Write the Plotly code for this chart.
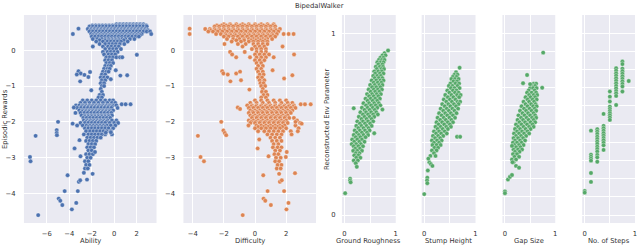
import plotly.graph_objects as go

# ---------------- data ----------------
# Panel 1: Ability vs Episodic Rewards  -> rows of (reward, [ability values]) + outliers
ability_rows = [
    (0.72, [0.2, 0.5, 0.8, 1.1, 1.4, 1.7, 2.0, 2.3, 2.6]),
    (0.69, [-1.95, -1.65, -1.35, -1.05, -0.75, -0.45, -0.15, 0.15, 0.45, 0.75, 1.05, 1.35, 1.65, 1.95, 2.25, 2.55, 2.85]),
    (0.66, [-2.2, -1.9, -1.6, -1.3, -1.0, -0.7, -0.4, -0.1, 0.2, 0.5, 0.8, 1.1, 1.4, 1.7, 2.0, 2.3, 2.6, 2.9]),
    (0.59, [-2.35, -2.05, -1.75, -1.45, -1.15, -0.85, -0.55, -0.25, 0.05, 0.35, 0.65, 0.95, 1.25, 1.55, 1.85, 2.15, 2.45, 2.75]),
    (0.555, [-2.1, -1.8, -1.5, -1.2, -0.9, -0.6, -0.3, 0.0, 0.3, 0.6, 0.9, 1.2, 1.5, 1.8, 2.1, 2.4, 2.7, 3.0]),
    (0.52, [-2.2, -1.9, -1.6, -1.3, -1.0, -0.7, -0.4, -0.1, 0.2, 0.5, 0.8, 1.1, 1.4, 1.7, 2.0, 2.3, 2.6, 2.9, 3.2]),
    (0.45, [-2.05, -1.75, -1.45, -1.15, -0.85, -0.55, -0.25, 0.05, 0.35, 0.65, 0.95, 1.25, 1.55, 1.85, 2.15, 2.45, 3.3]),
    (0.415, [-1.9, -1.6, -1.3, -1.0, -0.7, -0.4, -0.1, 0.2, 0.5, 0.8, 1.1, 1.4, 1.7, 2.0, 2.3]),
    (0.38, [-2.0, -1.7, -1.4, -1.1, -0.8, -0.5, -0.2, 0.1, 0.4, 0.7, 1.0, 1.3, 1.6, 1.9, 2.2]),
    (0.31, [-1.9, -1.5, -1.1, -0.8, -0.5, -0.2, 0.1, 0.4, 0.7, 1.0, 1.4, 1.8]),
    (0.275, [-1.3, -0.8, -0.45, -0.15, 0.15, 0.45, 0.85]),
    (0.24, [-1.6, -1.0, -0.6, -0.3, 0.0, 0.3, 0.6, 1.2]),
    (0.17, [-1.3, -0.8, -0.45, -0.15, 0.15, 0.5, 0.9]),
    (0.10, [-1.9, -1.0, -0.55, -0.25, 0.1, 0.4]),
    (0.03, [-0.8, -0.4, -0.1, 0.2, 0.6]),
    (-0.05, [-1.0, -0.6, -0.3, 0.0, 0.3]),
    (-0.12, [-0.9, -0.5, -0.2, 0.1]),
    (-0.20, [-0.7, -0.4, -0.1, 0.2, 0.52, 0.72]),
    (-0.28, [-0.8, -0.5, -0.2]),
    (-0.36, [-0.7, -0.4, -0.1]),
    (-0.44, [-0.8, -0.5, -0.3]),
    (-0.52, [-0.9, -0.6, -0.4]),
    (-0.60, [-1.0, -0.7, -0.5]),
    (-0.68, [-1.1, -0.8]),
    (-0.76, [-1.2, -0.9, -0.6]),
    (-0.84, [-1.1, -0.8]),
    (-0.92, [-1.2, -0.9]),
    (-1.00, [-1.1, -0.9]),
    (-1.08, [-1.2]),
    (-1.16, [-1.1]),
    (-1.25, [-1.3, -1.0]),
    (-1.32, [-1.4, -1.1]),
    (-1.40, [-2.8, -2.4, -2.0, -1.6, -1.2, -0.8, -0.4, -0.1]),
    (-1.47, [-3.0, -2.6, -2.2, -1.8, -1.4, -1.0, -0.6, -0.2, 0.1]),
    (-1.54, [-3.4, -3.1, -2.8, -2.5, -2.2, -1.9, -1.6, -1.3, -1.0, -0.7, -0.4, -0.1, 0.2]),
    (-1.575, [-2.9, -2.6, -2.3, -2.0, -1.7, -1.4, -1.1, -0.8, -0.5, -0.2]),
    (-1.61, [-3.3, -2.95, -2.65, -2.35, -2.05, -1.75, -1.45, -1.15, -0.85, -0.55, -0.25, 0.3]),
    (-1.68, [-3.1, -2.8, -2.5, -2.2, -1.9, -1.6, -1.3, -1.0, -0.7, -0.4, -0.1]),
    (-1.715, [-2.85, -2.55, -2.25, -1.95, -1.65, -1.35, -1.05, -0.75, -0.45]),
    (-1.75, [-3.0, -2.65, -2.35, -2.05, -1.75, -1.45, -1.15, -0.85, -0.55, -0.25]),
    (-1.82, [-2.9, -2.6, -2.3, -2.0, -1.7, -1.4, -1.1, -0.8, -0.5, -0.2]),
    (-1.855, [-2.6, -2.3, -2.0, -1.7, -1.4, -1.1, -0.8, -0.5]),
    (-1.89, [-2.75, -2.45, -2.15, -1.85, -1.55, -1.25, -0.95, -0.65, -0.35]),
    (-1.96, [-2.7, -2.4, -2.1, -1.8, -1.5, -1.2, -0.9, -0.6, -0.2, 0.2]),
    (-1.995, [-2.5, -2.2, -1.9, -1.6, -1.3, -1.0, -0.7]),
    (-2.03, [-3.0, -2.6, -2.3, -2.0, -1.7, -1.4, -1.1, -0.8, -0.4, 0.0, 0.35]),
    (-2.10, [-2.8, -2.45, -2.15, -1.85, -1.55, -1.25, -0.95, -0.65, -0.3, 0.1]),
    (-2.14, [-2.3, -2.0, -1.7, -1.4, -1.1, -0.8]),
    (-2.18, [-2.6, -2.3, -2.0, -1.7, -1.4, -1.1, -0.8, -0.5, -0.1]),
    (-2.26, [-2.5, -2.15, -1.85, -1.55, -1.25, -0.95, -0.65, -0.3]),
    (-2.35, [-2.7, -2.3, -2.0, -1.7, -1.4, -1.1, -0.8, -0.2]),
    (-2.44, [-2.4, -2.1, -1.8, -1.5, -1.2]),
    (-2.53, [-2.5, -2.2, -1.9, -1.6]),
    (-2.62, [-2.3, -2.0, -1.7]),
    (-2.71, [-2.4, -2.1, -1.8]),
    (-2.80, [-2.3, -2.0]),
    (-2.90, [-2.5, -2.2, -1.9]),
    (-3.00, [-2.4, -2.1]),
    (-3.10, [-2.6, -2.3]),
    (-3.20, [-2.5, -2.2]),
    (-3.30, [-2.6, -2.35]),
    (-3.42, [-2.7]),
]
ability_outliers = [
    (-3.68, 0.45), (-3.18, 0.6), (2.02, -0.13), (0.14, -0.56), (-0.30, -0.81), (0.55, -0.71),
    (1.16, -0.70), (-3.18, -0.59), (-2.98, -0.65), (-3.33, -0.68), (-2.65, -0.69), (-3.03, -0.87),
    (-2.3, -0.75), (-2.15, -0.61), (-2.04, -1.12), (0.67, -1.51), (1.02, -1.51), (1.46, -1.51),
    (-5.0, -2.0), (-7.0, -2.39), (-5.12, -2.23), (-5.12, -2.31), (-5.1, -2.37), (-7.5, -2.98),
    (-7.45, -3.1), (-6.77, -4.6), (-4.15, -3.49), (-4.41, -3.93), (-4.94, -4.14), (-4.8, -4.2),
    (-4.62, -4.32), (-3.77, -4.44), (-3.38, -4.26), (-3.24, -3.93), (-3.53, -2.74), (-3.09, -2.51),
    (-3.0, -2.96), (-3.15, -3.67), (-3.03, -3.63), (-2.42, -3.61), (-1.92, -3.45), (-1.71, -2.84),
    (-0.3, -2.29), (-0.75, -2.3), (-3.6, -1.6), (-3.45, -1.75), (-3.7, -2.05), (-3.3, -2.1),
]

# Panel 2: Difficulty vs Episodic Rewards
difficulty_rows = [
    (0.72, [-2.0, -1.6, -1.2, -0.8, -0.4, 0.0, 0.4, 0.8, 1.2]),
    (0.69, [-2.45, -2.15, -1.85, -1.55, -1.25, -0.95, -0.65, -0.35, -0.05, 0.25, 0.55, 0.85, 1.15]),
    (0.66, [-2.6, -2.3, -2.0, -1.7, -1.4, -1.1, -0.8, -0.5, -0.2, 0.1, 0.4, 0.7, 1.0, 1.3]),
    (0.59, [-3.2, -2.9, -2.6, -2.3, -2.0, -1.7, -1.4, -1.1, -0.8, -0.5, -0.2, 0.1, 0.4, 0.7, 1.0, 1.3, 1.6]),
    (0.555, [-2.85, -2.55, -2.25, -1.95, -1.65, -1.35, -1.05, -0.75, -0.45, -0.15, 0.15, 0.45, 0.75, 1.05, 1.35]),
    (0.52, [-3.0, -2.7, -2.4, -2.1, -1.8, -1.5, -1.2, -0.9, -0.6, -0.3, 0.0, 0.3, 0.6, 0.9, 1.2, 1.5]),
    (0.45, [-2.5, -2.2, -1.9, -1.6, -1.3, -1.0, -0.7, -0.4, -0.1, 0.2, 0.5, 0.8, 1.1, 1.4, 1.84, 2.16, 2.48]),
    (0.415, [-1.85, -1.55, -1.25, -0.95, -0.65, -0.35, -0.05, 0.25, 0.55, 0.85, 1.15]),
    (0.38, [-2.0, -1.7, -1.4, -1.1, -0.8, -0.5, -0.2, 0.1, 0.4, 0.7, 1.0, 1.3]),
    (0.31, [-1.8, -1.4, -1.0, -0.7, -0.4, -0.1, 0.2, 0.5, 0.8, 1.1]),
    (0.275, [-1.2, -0.7, -0.25, 0.05, 0.35, 0.65]),
    (0.24, [-1.5, -0.9, -0.4, -0.1, 0.2, 0.5, 0.8]),
    (0.17, [-1.96, -1.1, -0.6, -0.1, 0.2, 0.5, 0.8]),
    (0.10, [-0.8, 0.0, 0.3, 0.6, 1.77]),
    (0.03, [-0.2, 0.1, 0.4, 0.7]),
    (-0.05, [-1.6, -0.66, 0.1, 0.4, 0.7]),
    (-0.12, [-1.47, 0.0, 0.3, 0.6, 0.9, 2.51]),
    (-0.20, [-1.21, -0.32, 0.1, 0.4, 0.7, 1.2]),
    (-0.28, [0.0, 0.3, 0.6]),
    (-0.36, [0.1, 0.4]),
    (-0.44, [0.2, 0.5]),
    (-0.52, [0.1, 0.4]),
    (-0.60, [0.2, 0.5]),
    (-0.68, [0.3, 0.55]),
    (-0.76, [0.2, 0.45]),
    (-0.84, [0.3, 0.6]),
    (-0.92, [0.35, 0.55]),
    (-1.00, [0.4, 0.65]),
    (-1.08, [0.5]),
    (-1.16, [0.45, 0.7]),
    (-1.25, [0.55, 0.8]),
    (-1.32, [0.4, 0.7]),
    (-1.40, [0.0, 0.4, 0.8, 1.2, 1.6, 2.0]),
    (-1.47, [-0.3, 0.1, 0.5, 0.9, 1.3, 1.7, 2.1, 2.4]),
    (-1.54, [-0.5, -0.2, 0.1, 0.4, 0.7, 1.0, 1.3, 1.6, 1.9, 2.2, 2.5]),
    (-1.575, [-0.25, 0.05, 0.35, 0.65, 0.95, 1.25, 1.55, 1.85, 2.15, 2.45]),
    (-1.61, [-0.4, -0.1, 0.2, 0.5, 0.8, 1.1, 1.4, 1.7, 2.0, 2.3, 2.6]),
    (-1.68, [-0.3, 0.0, 0.3, 0.6, 0.9, 1.2, 1.5, 1.8, 2.1, 2.4]),
    (-1.715, [-0.15, 0.15, 0.45, 0.75, 1.05, 1.35, 1.65, 1.95, 2.25]),
    (-1.75, [-0.4, -0.1, 0.2, 0.5, 0.8, 1.1, 1.4, 1.7, 2.0, 2.3]),
    (-1.82, [-0.3, 0.0, 0.3, 0.6, 0.9, 1.2, 1.5, 1.8, 2.1]),
    (-1.855, [-0.15, 0.15, 0.45, 0.75, 1.05, 1.35, 1.65, 1.95]),
    (-1.89, [-0.2, 0.1, 0.4, 0.7, 1.0, 1.3, 1.6, 1.9, 2.2, 2.5]),
    (-1.96, [-0.4, -0.1, 0.2, 0.5, 0.8, 1.1, 1.4, 1.7, 2.0, 2.7]),
    (-1.995, [-0.25, 0.05, 0.35, 0.65, 0.95, 1.25, 1.55, 1.85]),
    (-2.03, [-0.3, 0.0, 0.3, 0.6, 0.9, 1.2, 1.5, 1.8, 2.1, 2.9]),
    (-2.10, [-0.42, 0.1, 0.4, 0.7, 1.0, 1.3, 1.6, 1.9, 2.6]),
    (-2.14, [0.2, 0.55, 0.85, 1.15, 1.45, 1.75]),
    (-2.18, [0.0, 0.4, 0.7, 1.0, 1.3, 1.6, 2.0, 2.8]),
    (-2.26, [0.2, 0.6, 0.9, 1.2, 1.5, 1.8, 2.3, 2.75]),
    (-2.35, [0.8, 1.1, 1.4, 1.7, 2.35]),
    (-2.44, [1.0, 1.3, 1.6]),
    (-2.53, [1.1, 1.4, 1.7]),
    (-2.62, [1.2, 1.5]),
    (-2.71, [1.15, 1.45, 1.7]),
    (-2.80, [1.3, 1.6]),
    (-2.90, [1.25, 1.5]),
    (-3.00, [1.35, 1.65]),
    (-3.10, [1.3, 1.55]),
    (-3.20, [1.45, 1.7]),
    (-3.30, [1.4, 1.65]),
    (-3.45, [1.55]),
]
difficulty_outliers = [
    (-4.2, 0.6), (-4.2, 0.45), (1.13, -0.56), (1.87, -0.79), (2.4, -0.7),
    (-2.11, -0.59), (-2.03, -0.65), (-1.75, -0.68), (-1.58, -0.87), (-1.21, -0.65), (-0.96, -0.6),
    (-0.9, -0.84), (-0.36, -1.1), (2.94, -1.51), (3.21, -1.51), (3.58, -1.51), (-1.11, -1.6),
    (-0.96, -1.64), (-2.17, -2.0), (-3.67, -2.39), (-2.03, -2.24), (-1.94, -2.31), (-1.85, -2.37),
    (-3.5, -2.98), (-3.28, -3.1), (-0.79, -4.6), (0.53, -3.49), (0.81, -3.93), (0.55, -4.14),
    (0.66, -4.2), (1.02, -4.32), (2.02, -4.44), (2.15, -4.26), (1.87, -3.93), (0.17, -2.74),
    (0.27, -2.49), (0.87, -2.96), (1.6, -3.67), (1.72, -3.63), (2.04, -2.84), (2.57, -3.43),
    (1.98, -2.98), (2.6, -2.0), (3.0, -2.05),
]

# Panels 3-5: true env parameter (x) vs reconstructed env parameter (y)
roughness_rows = [
    (0.890, [0.78]), (0.878, [0.74, 0.80]), (0.865, [0.70, 0.76]), (0.853, [0.67, 0.73, 0.78]),
    (0.840, [0.64, 0.71, 0.76]), (0.828, [0.66, 0.74]), (0.815, [0.61, 0.69, 0.75]),
    (0.803, [0.63, 0.72, 0.77]), (0.790, [0.58, 0.66, 0.73]), (0.778, [0.60, 0.69, 0.76]),
    (0.765, [0.56, 0.64, 0.71]), (0.753, [0.59, 0.67, 0.74]), (0.740, [0.53, 0.62, 0.70, 0.76]),
    (0.728, [0.57, 0.65, 0.72]), (0.715, [0.50, 0.59, 0.68, 0.74]), (0.703, [0.54, 0.62, 0.70]),
    (0.690, [0.47, 0.57, 0.65, 0.73]), (0.678, [0.51, 0.60, 0.68]), (0.665, [0.44, 0.54, 0.63, 0.71]),
    (0.653, [0.48, 0.57, 0.66]), (0.640, [0.41, 0.51, 0.60, 0.69]), (0.628, [0.45, 0.55, 0.64]),
    (0.615, [0.37, 0.48, 0.58, 0.67]), (0.603, [0.42, 0.52, 0.61, 0.70]),
    (0.590, [0.34, 0.45, 0.55, 0.64]), (0.578, [0.39, 0.49, 0.59]),
    (0.565, [0.31, 0.42, 0.52, 0.62]), (0.553, [0.36, 0.46, 0.56, 0.65]),
    (0.540, [0.28, 0.39, 0.49, 0.58]), (0.528, [0.33, 0.43, 0.53]),
    (0.515, [0.25, 0.36, 0.46, 0.56]), (0.503, [0.30, 0.40, 0.50]),
    (0.490, [0.23, 0.33, 0.43, 0.53]), (0.478, [0.27, 0.37, 0.47]),
    (0.465, [0.20, 0.30, 0.40, 0.49]), (0.453, [0.24, 0.34, 0.44]),
    (0.440, [0.18, 0.28, 0.37, 0.46]), (0.428, [0.22, 0.31, 0.41]),
    (0.415, [0.15, 0.25, 0.34]), (0.403, [0.19, 0.29, 0.39]), (0.390, [0.14, 0.23, 0.32]),
    (0.378, [0.18, 0.27, 0.36]), (0.365, [0.21, 0.30]), (0.353, [0.17, 0.25, 0.34]),
    (0.340, [0.22, 0.29]), (0.328, [0.19, 0.27]), (0.315, [0.23, 0.31]), (0.300, [0.18, 0.26]),
    (0.285, [0.22]), (0.265, [0.24]),
]
roughness_outliers = [(0.013, 0.12), (0.11, 0.20), (0.11, 0.19), (0.12, 0.18), (0.18, 0.587),
                      (0.58, 0.45), (0.74, 0.58), (0.85, 0.905)]

stump_rows = [
    (0.785, [0.62]), (0.772, [0.59, 0.65]), (0.760, [0.56, 0.63]), (0.748, [0.53, 0.60, 0.67]),
    (0.735, [0.57, 0.64]), (0.723, [0.51, 0.61, 0.68]), (0.710, [0.48, 0.55, 0.65]),
    (0.698, [0.52, 0.59, 0.69]), (0.685, [0.45, 0.56, 0.63]), (0.673, [0.49, 0.60, 0.67]),
    (0.660, [0.41, 0.53, 0.64, 0.71]), (0.648, [0.46, 0.57, 0.68]), (0.635, [0.38, 0.50, 0.61]),
    (0.623, [0.43, 0.54, 0.65, 0.70]), (0.610, [0.35, 0.47, 0.58, 0.67]), (0.598, [0.40, 0.51, 0.62]),
    (0.585, [0.32, 0.44, 0.55, 0.66]), (0.573, [0.37, 0.48, 0.59]), (0.560, [0.29, 0.41, 0.52, 0.63]),
    (0.548, [0.34, 0.45, 0.56]), (0.535, [0.26, 0.38, 0.49, 0.60]), (0.523, [0.31, 0.42, 0.53]),
    (0.510, [0.24, 0.35, 0.46, 0.56]), (0.498, [0.28, 0.39, 0.50]), (0.485, [0.22, 0.32, 0.43, 0.52]),
    (0.473, [0.26, 0.36, 0.46]), (0.460, [0.19, 0.29, 0.40]), (0.448, [0.23, 0.33, 0.44]),
    (0.435, [0.17, 0.27, 0.37]), (0.423, [0.21, 0.31]), (0.410, [0.15, 0.25, 0.34]),
    (0.398, [0.19, 0.29]), (0.385, [0.16, 0.24, 0.32]), (0.370, [0.20, 0.27]),
    (0.355, [0.15, 0.24]), (0.340, [0.19]), (0.325, [0.12, 0.22]),
]
stump_outliers = [(0.0, 0.115), (0.06, 0.205), (0.055, 0.19), (0.06, 0.175), (0.07, 0.245),
                  (0.1, 0.29), (0.13, 0.28), (0.16, 0.27), (0.64, 0.43), (0.70, 0.43), (0.69, 0.81),
                  (0.08, 0.31)]

gap_rows = [
    (0.722, [0.57, 0.62]), (0.710, [0.53, 0.60]), (0.698, [0.50, 0.56, 0.63]), (0.685, [0.47, 0.59]),
    (0.673, [0.44, 0.53, 0.62]), (0.660, [0.48, 0.57, 0.64]), (0.648, [0.41, 0.51, 0.60]),
    (0.635, [0.45, 0.55, 0.63]), (0.623, [0.37, 0.48, 0.58]), (0.610, [0.41, 0.52, 0.61]),
    (0.598, [0.33, 0.45, 0.56, 0.63]), (0.585, [0.38, 0.49, 0.59]), (0.573, [0.30, 0.42, 0.53, 0.62]),
    (0.560, [0.35, 0.46, 0.57]), (0.548, [0.27, 0.39, 0.50, 0.60]), (0.535, [0.32, 0.43, 0.54, 0.62]),
    (0.523, [0.25, 0.36, 0.47, 0.57]), (0.510, [0.29, 0.40, 0.51, 0.60]),
    (0.498, [0.22, 0.33, 0.44, 0.55]), (0.485, [0.26, 0.37, 0.48, 0.57]),
    (0.473, [0.20, 0.30, 0.41, 0.51]), (0.460, [0.24, 0.34, 0.45]), (0.448, [0.18, 0.28, 0.38, 0.48]),
    (0.435, [0.22, 0.32, 0.42]), (0.423, [0.17, 0.26, 0.36]), (0.410, [0.20, 0.30, 0.40]),
    (0.398, [0.16, 0.24, 0.33]), (0.385, [0.19, 0.28, 0.37]), (0.373, [0.22, 0.31]),
    (0.360, [0.17, 0.26, 0.34]), (0.348, [0.20, 0.29]), (0.335, [0.16, 0.24]), (0.320, [0.19, 0.28]),
    (0.305, [0.14, 0.22]), (0.290, [0.17]),
]
gap_outliers = [(0.76, 0.893), (0.44, 0.77), (0.36, 0.725), (0.74, 0.70), (0.50, 0.72),
                (0.0, 0.13), (0.0, 0.12), (0.06, 0.195), (0.10, 0.21), (0.14, 0.22),
                (0.15, 0.29), (0.22, 0.27), (0.28, 0.26), (0.14, 0.38)]

# Panel 6: number of steps (discrete, k/8) vs reconstructed value
steps_columns = [
    (0.0, [0.132, 0.123]),
    (0.125, [0.464, 0.332, 0.321, 0.310, 0.299, 0.231, 0.182]),
    (0.25, [0.472, 0.459, 0.446, 0.431, 0.418, 0.404, 0.391, 0.376, 0.363, 0.349, 0.330, 0.317, 0.293]),
    (0.375, [0.556, 0.490, 0.477, 0.464, 0.450, 0.437, 0.424, 0.411, 0.397, 0.383, 0.358]),
    (0.5, [0.679, 0.651, 0.624, 0.596, 0.584, 0.572, 0.560, 0.548, 0.536, 0.523]),
    (0.625, [0.807, 0.793, 0.779, 0.766, 0.752, 0.738, 0.724, 0.710, 0.696, 0.682, 0.669, 0.655, 0.605]),
    (0.75, [0.844, 0.830, 0.805, 0.791, 0.777, 0.763, 0.749, 0.735, 0.721, 0.707, 0.679]),
    (0.875, [0.737]),
]

y1_ticks = [0, -1, -2, -3, -4]
ability_ticks = [-6, -4, -2, 0, 2]
difficulty_ticks = [-4, -2, 0, 2]
param_titles = ["Ground Roughness", "Stump Height", "Gap Size", "No. of Steps"]

BLUE, ORANGE, GREEN = "#4C72B0", "#DD8452", "#55A868"


def flatten_rows(rows, outliers):
    xs, ys = [], []
    for y, xlist in rows:
        for x in xlist:
            xs.append(x)
            ys.append(y)
    for x, y in outliers:
        xs.append(x)
        ys.append(y)
    return xs, ys


def flatten_cols(cols):
    xs, ys = [], []
    for x, ylist in cols:
        for y in ylist:
            xs.append(x)
            ys.append(y)
    return xs, ys


def minus(v):
    return str(v).replace("-", "\u2212")


W, H = 640, 247
fig = go.Figure()

panels = [
    flatten_rows(ability_rows, ability_outliers),
    flatten_rows(difficulty_rows, difficulty_outliers),
    flatten_rows(roughness_rows, roughness_outliers),
    flatten_rows(stump_rows, stump_outliers),
    flatten_rows(gap_rows, gap_outliers),
    flatten_cols(steps_columns),
]
colors = [BLUE, ORANGE, GREEN, GREEN, GREEN, GREEN]
for i, ((xs, ys), c) in enumerate(zip(panels, colors)):
    fig.add_trace(go.Scatter(
        x=xs, y=ys, mode="markers",
        xaxis="x" if i == 0 else f"x{i+1}",
        yaxis="y" if i == 0 else f"y{i+1}",
        marker=dict(size=4.4, color=c, line=dict(color="white", width=0.35)),
        showlegend=False, hoverinfo="skip",
    ))

# pixel layout of panels
px_x = [(24, 157), (184, 317), (343, 397), (423, 477), (504, 557), (584, 637)]
top_px, bot_px = 15, 223
ydom = [1 - bot_px / H, 1 - top_px / H]

font = dict(family="DejaVu Sans", size=6.8, color="#333333")
common = dict(showgrid=True, gridcolor="white", gridwidth=1, zeroline=False,
              showline=False, tickfont=font, ticks="outside",
              tickcolor="rgba(0,0,0,0)", fixedrange=True)

layout = dict(
    width=W, height=H, margin=dict(l=0, r=0, t=0, b=0),
    paper_bgcolor="white", plot_bgcolor="#EAEAF2",
    font=font,
)

param_yvals = [round(v * 0.1, 1) for v in range(11)]
param_ytext = ["0"] + [""] * 9 + ["1"]

for i, (a, b) in enumerate(px_x):
    xk = "xaxis" if i == 0 else f"xaxis{i+1}"
    yk = "yaxis" if i == 0 else f"yaxis{i+1}"
    anchor_y = "y" if i == 0 else f"y{i+1}"
    anchor_x = "x" if i == 0 else f"x{i+1}"
    xa = dict(common, domain=[a / W, b / W], anchor=anchor_y, ticklen=4)
    ya = dict(common, domain=ydom, anchor=anchor_x, ticklen=6)
    if i == 0:
        xa.update(range=[-8.04, 3.77], tickvals=ability_ticks,
                  ticktext=[minus(t) for t in ability_ticks])
    elif i == 1:
        xa.update(range=[-4.6, 3.92], tickvals=difficulty_ticks,
                  ticktext=[minus(t) for t in difficulty_ticks])
    else:
        xa.update(range=[-0.05, 1.0], tickvals=[0, 0.5, 1], ticktext=["0", "", "1"])
    if i < 2:
        ya.update(range=[-4.82, 0.98], tickvals=y1_ticks,
                  ticktext=[minus(t) for t in y1_ticks])
    else:
        ya.update(range=[-0.044, 1.10], tickvals=param_yvals, ticktext=param_ytext,
                  showticklabels=(i == 2), ticklen=4)
    layout[xk] = xa
    layout[yk] = ya

fig.update_layout(**layout)

# axis titles and figure title
x_titles = ["Ability", "Difficulty"] + param_titles
for (a, b), t in zip(px_x, x_titles):
    fig.add_annotation(text=t, x=(a + b) / 2 / W, y=1 - 241 / H, xref="paper", yref="paper",
                       showarrow=False, font=font, xanchor="center", yanchor="middle")
fig.add_annotation(text="Episodic Rewards", x=5 / W, y=1 - 119 / H, xref="paper", yref="paper",
                   showarrow=False, font=font, textangle=-90, xanchor="center", yanchor="middle")
fig.add_annotation(text="Reconstructed Env Parameter", x=328 / W, y=1 - 119 / H, xref="paper",
                   yref="paper", showarrow=False, font=font, textangle=-90,
                   xanchor="center", yanchor="middle")
fig.add_annotation(text="BipedalWalker", x=0.5, y=1 - 6 / H, xref="paper", yref="paper",
                   showarrow=False, font=font, xanchor="center", yanchor="middle")

# remove the browser's default page margin so the figure sits at (0, 0)
fig.write_html("out.html", config={"displayModeBar": False},
               post_script="document.body.style.margin='0';document.body.style.overflow='hidden';")
